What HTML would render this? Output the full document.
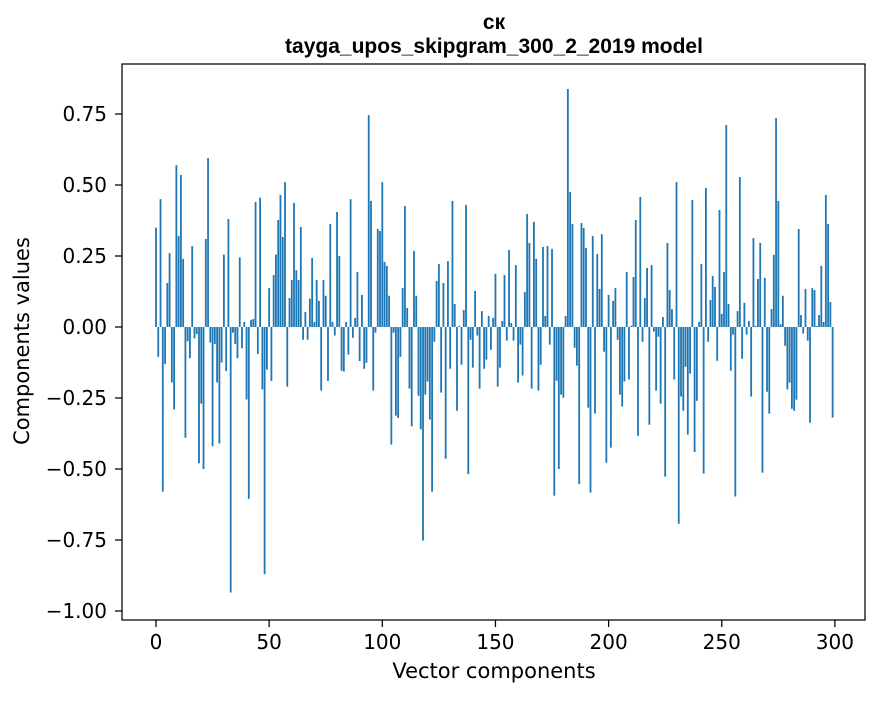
<!DOCTYPE html>
<html><head><meta charset="utf-8"><style>
body{margin:0;background:#fff;}
svg text{font-family:"DejaVu Sans","Liberation Sans",sans-serif;fill:#000;}
svg text.title{font-family:"Liberation Sans","DejaVu Sans",sans-serif;font-weight:bold;}
</style></head><body>
<svg id="chart" width="880" height="696" viewBox="0 0 880 696" xmlns="http://www.w3.org/2000/svg">
<rect width="880" height="696" fill="#fff"/>
<text class="title" x="494" y="29" text-anchor="middle" font-size="21">ск</text>
<text class="title" x="494" y="53" text-anchor="middle" font-size="21">tayga_upos_skipgram_300_2_2019 model</text>
<g id="bars"></g>
<rect x="122" y="64" width="743" height="556" fill="none" stroke="#000" stroke-width="1.25"/>
<g id="xticks"></g>
<g id="yticks"></g>
<text x="494" y="678" text-anchor="middle" font-size="21">Vector components</text>
<text transform="translate(29,341) rotate(-90)" text-anchor="middle" font-size="21">Components values</text>
</svg>
<script>
const values = [
0.35,-0.105,0.45,-0.58,-0.13,0.155,0.26,-0.195,-0.29,0.57,
0.32,0.535,0.24,-0.39,-0.05,-0.11,0.285,-0.04,-0.025,-0.48,
-0.27,-0.5,0.31,0.595,-0.055,-0.42,-0.06,-0.195,-0.41,-0.125,
0.255,-0.155,0.38,-0.935,-0.02,-0.06,-0.11,0.245,-0.075,0.018,
-0.255,-0.605,0.025,0.028,0.44,-0.095,0.455,-0.22,-0.87,-0.15,
0.137,-0.19,0.183,0.255,0.377,0.465,0.317,0.51,-0.21,0.102,
0.165,0.437,0.2,0.165,0.352,-0.045,0.053,-0.045,0.1,0.243,
0.018,0.165,0.092,-0.224,0.165,0.11,-0.19,0.363,0.018,-0.03,
0.405,0.25,-0.154,-0.157,0.018,-0.097,0.45,-0.038,0.032,0.194,
-0.12,0.113,-0.147,-0.126,0.746,0.444,-0.224,-0.02,0.345,0.338,
0.51,0.229,0.215,0.11,-0.414,-0.02,-0.312,-0.32,-0.105,0.137,
0.426,0.067,-0.217,-0.35,0.268,0.11,-0.242,-0.36,-0.752,-0.238,
-0.192,-0.326,-0.58,-0.052,0.162,0.222,-0.231,0.155,-0.464,0.232,
-0.147,0.444,0.081,-0.295,0.004,-0.133,0.06,0.43,-0.518,-0.045,
-0.143,0.127,-0.03,-0.217,0.056,-0.147,-0.115,0.039,-0.08,0.032,
0.187,-0.21,-0.143,0.021,0.183,-0.048,0.271,0.014,-0.048,0.218,
-0.196,-0.062,-0.171,0.123,0.398,0.296,-0.217,0.37,0.24,-0.224,
-0.133,0.282,0.039,0.285,-0.062,0.275,-0.594,-0.189,-0.5,-0.238,
-0.249,0.039,0.838,0.475,0.363,-0.073,-0.136,-0.553,0.366,0.349,
0.278,-0.284,-0.583,0.32,-0.305,0.257,0.134,0.327,-0.087,-0.478,
0.113,-0.425,0.092,0.137,-0.045,-0.238,-0.28,-0.192,0.194,-0.185,
0.004,0.176,0.377,-0.383,0.458,-0.052,0.102,0.208,-0.344,0.218,
-0.016,-0.224,-0.034,-0.27,0.035,-0.527,0.296,0.13,0.063,-0.185,
0.51,-0.693,-0.245,-0.295,-0.14,-0.379,-0.164,0.447,-0.44,-0.26,
0.018,0.222,-0.516,0.489,-0.052,0.095,0.18,0.141,-0.119,0.412,
0.046,0.194,0.711,0.081,-0.154,-0.027,-0.597,0.056,0.528,-0.112,
0.085,-0.027,0.021,-0.245,0.313,0.004,0.169,0.296,-0.513,0.173,
-0.228,-0.305,0.063,0.254,0.736,0.444,0.01,0.11,-0.066,-0.22,
-0.196,-0.288,-0.295,-0.256,0.345,0.042,-0.023,0.134,-0.048,-0.337,
0.137,0.13,0.004,0.042,0.215,0.018,0.465,0.363,0.088,-0.319
];
const xTicks = [0,50,100,150,200,250,300];
const yTicks = [0.75,0.5,0.25,0,-0.25,-0.5,-0.75,-1.0];
const yTickLabels = ["0.75","0.50","0.25","0.00","\u22120.25","\u22120.50","\u22120.75","\u22121.00"];

const NS = "http://www.w3.org/2000/svg";
function xs(v){ return 156 + 2.263*v; }
function ys(v){ return 327 - 284*v; }

const bars = document.getElementById('bars');
values.forEach((v,i)=>{
  const r = document.createElementNS(NS,'rect');
  const x0 = xs(i-0.4), x1 = xs(i+0.4);
  const y0 = Math.min(ys(v), ys(0)), y1 = Math.max(ys(v), ys(0));
  r.setAttribute('x', x0);
  r.setAttribute('width', x1-x0);
  r.setAttribute('y', y0);
  r.setAttribute('height', Math.max(y1-y0, 0.01));
  r.setAttribute('fill', '#1f77b4');
  
  
  bars.appendChild(r);
});

const xg = document.getElementById('xticks');
xTicks.forEach(t=>{
  const l = document.createElementNS(NS,'line');
  l.setAttribute('x1', xs(t)); l.setAttribute('x2', xs(t));
  l.setAttribute('y1', 620); l.setAttribute('y2', 627);
  l.setAttribute('stroke', '#000');
  l.setAttribute('stroke-width', '1.25');
  
  
  xg.appendChild(l);
  const tx = document.createElementNS(NS,'text');
  tx.setAttribute('x', xs(t)); tx.setAttribute('y', 649);
  tx.setAttribute('text-anchor', 'middle'); tx.setAttribute('font-size', '20');
  tx.textContent = String(t);
  
  
  xg.appendChild(tx);
});

const yg = document.getElementById('yticks');
yTicks.forEach((t,k)=>{
  const l = document.createElementNS(NS,'line');
  l.setAttribute('x1', 115); l.setAttribute('x2', 122);
  l.setAttribute('y1', ys(t)); l.setAttribute('y2', ys(t));
  l.setAttribute('stroke', '#000');
  l.setAttribute('stroke-width', '1.25');
  
  
  yg.appendChild(l);
  const tx = document.createElementNS(NS,'text');
  tx.setAttribute('x', 107); tx.setAttribute('y', ys(t)+7);
  tx.setAttribute('text-anchor', 'end'); tx.setAttribute('font-size', '20');
  tx.textContent = yTickLabels[k];
  
  
  yg.appendChild(tx);
});
</script>
</body></html>
